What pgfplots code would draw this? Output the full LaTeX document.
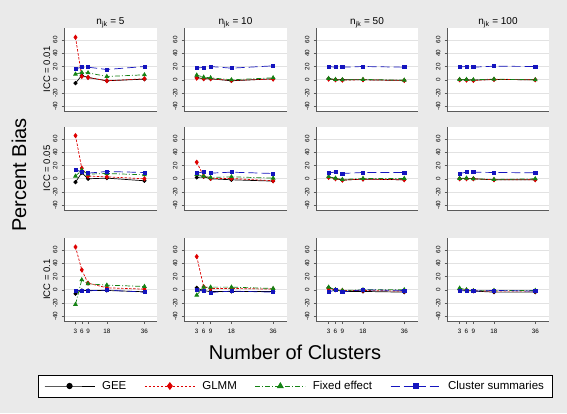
\documentclass[border=0pt]{standalone}
\usepackage{pgfplots}
\pgfplotsset{compat=1.18}
\usepackage{fontspec}
\setmainfont{Liberation Sans}

\definecolor{bg}{RGB}{234,234,234}
\definecolor{cred}{RGB}{222,0,0}
\definecolor{cgreen}{RGB}{20,130,20}
\definecolor{cblue}{RGB}{20,20,190}
\definecolor{gridc}{RGB}{226,226,226}
\definecolor{axc}{RGB}{90,90,90}

\pgfplotsset{
 every axis title/.style={at={(0.5,1)}, anchor=south, inner sep=1pt, yshift=-1pt, font=\fontsize{10}{12}\selectfont},
 panel/.style={scale only axis, height=83pt, anchor=south west,
   xmin=-2.5, xmax=42, ymin=-47, ymax=78,
   axis lines*=left, axis line style={-, axc, line width=0.5pt},
   axis background/.style={fill=white},
   ytick={-40,-20,0,20,40,60}, yticklabels={-40,-20,0,20,40,60},
   yticklabel style={rotate=90, anchor=south, font=\fontsize{6.3}{6.3}\selectfont, inner sep=1pt, outer ysep=3pt},
   tick align=outside, major tick length=2.5pt, tick style={axc, line width=0.4pt},
   ymajorgrids, major grid style={gridc, line width=0.6pt},
   ylabel style={font=\fontsize{9.5}{11}\selectfont, at={(axis description cs:-0.185,0.5)}, anchor=center},
   xtick=\empty},
 lastrow/.style={xtick={3,6,9,18,36}, xticklabels={3,6,9,18,36},
   xticklabel style={font=\fontsize{6.3}{6.3}\selectfont, inner sep=1pt, outer ysep=5pt}},
 gee/.style={black, solid, line width=0.7pt, mark=*, mark size=1.7pt, mark options={solid}},
 glmm/.style={cred, dash pattern=on 2.5pt off 1.5pt, line width=0.7pt, mark=diamond*, mark size=2.1pt, mark options={solid}},
 fe/.style={cgreen, dash pattern=on 5pt off 2pt on 1pt off 2pt, line width=0.7pt, mark=triangle*, mark size=2.1pt, mark options={solid}},
 cs/.style={cblue, dash pattern=on 9pt off 4pt, line width=0.7pt, mark=square*, mark size=1.6pt, mark options={solid}},
}

\begin{document}
\begin{tikzpicture}
\fill[bg] (0pt,0pt) rectangle (567pt,413pt);

% ---------------- Row 1: ICC = 0.01 ----------------
\begin{axis}[panel, at={(64pt,302pt)}, width=93pt, title={n\textsubscript{jk} = 5}, ylabel={ICC = 0.01}]
\addplot[gee] coordinates {(3,-5)(6,6.5)(9,3.5)(18,-1.5)(36,1)};
\addplot[glmm] coordinates {(3,64)(6,5)(9,3.5)(18,-1.5)(36,1.5)};
\addplot[fe] coordinates {(3,8.5)(6,11)(9,10.5)(18,5)(36,7.5)};
\addplot[cs] coordinates {(3,16.5)(6,19)(9,19)(18,15.5)(36,20)};
\end{axis}
\begin{axis}[panel, at={(184pt,302pt)}, width=103pt, title={n\textsubscript{jk} = 10}]
\addplot[gee] coordinates {(3,3.5)(6,1.5)(9,1.5)(18,-1.5)(36,1.5)};
\addplot[glmm] coordinates {(3,2.5)(6,1.5)(9,1.5)(18,-1)(36,1)};
\addplot[fe] coordinates {(3,7)(6,4)(9,3)(18,0)(36,3)};
\addplot[cs] coordinates {(3,18)(6,18.5)(9,20)(18,17.5)(36,21)};
\end{axis}
\begin{axis}[panel, at={(316pt,302pt)}, width=102pt, title={n\textsubscript{jk} = 50}]
\addplot[gee] coordinates {(3,1.5)(6,0)(9,0)(18,0)(36,-1)};
\addplot[glmm] coordinates {(3,1)(6,0)(9,-0.5)(18,0)(36,-1)};
\addplot[fe] coordinates {(3,2)(6,0.5)(9,0)(18,0.5)(36,-0.5)};
\addplot[cs] coordinates {(3,20)(6,19)(9,19)(18,20)(36,19)};
\end{axis}
\begin{axis}[panel, at={(447pt,302pt)}, width=102pt, title={n\textsubscript{jk} = 100}]
\addplot[gee] coordinates {(3,0)(6,0)(9,-0.5)(18,0.5)(36,0)};
\addplot[glmm] coordinates {(3,0)(6,-0.5)(9,-1)(18,0.5)(36,0)};
\addplot[fe] coordinates {(3,0.5)(6,0.5)(9,0)(18,1)(36,0)};
\addplot[cs] coordinates {(3,19.5)(6,20)(9,19)(18,20.5)(36,20)};
\end{axis}

% ---------------- Row 2: ICC = 0.05 ----------------
\begin{axis}[panel, at={(64pt,203pt)}, width=93pt, ylabel={ICC = 0.05}]
\addplot[gee] coordinates {(3,-5)(6,9)(9,0)(18,1)(36,-3)};
\addplot[glmm] coordinates {(3,65)(6,16)(9,4)(18,3)(36,0)};
\addplot[fe] coordinates {(3,4)(6,13)(9,7)(18,8)(36,6)};
\addplot[cs] coordinates {(3,14)(6,10)(9,8.5)(18,11)(36,9.5)};
\end{axis}
\begin{axis}[panel, at={(184pt,203pt)}, width=103pt]
\addplot[gee] coordinates {(3,2)(6,3)(9,0)(18,-1.5)(36,-3.5)};
\addplot[glmm] coordinates {(3,25)(6,4)(9,0.5)(18,0.5)(36,-3)};
\addplot[fe] coordinates {(3,6.5)(6,4)(9,2)(18,3)(36,1)};
\addplot[cs] coordinates {(3,8.5)(6,10.5)(9,8.5)(18,10)(36,8)};
\end{axis}
\begin{axis}[panel, at={(316pt,203pt)}, width=102pt]
\addplot[gee] coordinates {(3,2.5)(6,0.5)(9,-2)(18,-0.5)(36,-1.5)};
\addplot[glmm] coordinates {(3,2)(6,0)(9,-2)(18,-0.5)(36,-1.5)};
\addplot[fe] coordinates {(3,3)(6,1)(9,-1)(18,0.5)(36,0.5)};
\addplot[cs] coordinates {(3,8.5)(6,10.5)(9,8)(18,9.5)(36,9.5)};
\end{axis}
\begin{axis}[panel, at={(447pt,203pt)}, width=102pt]
\addplot[gee] coordinates {(3,0)(6,0.5)(9,0)(18,-1.5)(36,-1.5)};
\addplot[glmm] coordinates {(3,0)(6,0)(9,0)(18,-1.5)(36,-1.5)};
\addplot[fe] coordinates {(3,0.5)(6,1)(9,0)(18,-1)(36,0)};
\addplot[cs] coordinates {(3,8)(6,10)(9,10)(18,9.5)(36,9)};
\end{axis}

% ---------------- Row 3: ICC = 0.1 ----------------
\begin{axis}[panel, lastrow, at={(64pt,92pt)}, width=93pt, ylabel={ICC = 0.1}]
\addplot[gee] coordinates {(3,-6)(6,-1)(9,-1)(18,-1)(36,-3)};
\addplot[glmm] coordinates {(3,64.5)(6,30)(9,10)(18,3)(36,1)};
\addplot[fe] coordinates {(3,-22)(6,15)(9,9)(18,7)(36,5)};
\addplot[cs] coordinates {(3,-1)(6,-1)(9,-1.5)(18,-0.5)(36,-3.5)};
\end{axis}
\begin{axis}[panel, lastrow, at={(184pt,92pt)}, width=103pt]
\addplot[gee] coordinates {(3,3)(6,-1.5)(9,-2.5)(18,-2.5)(36,-2.5)};
\addplot[glmm] coordinates {(3,50)(6,4.5)(9,2)(18,2)(36,1)};
\addplot[fe] coordinates {(3,-8)(6,4)(9,4)(18,4)(36,2)};
\addplot[cs] coordinates {(3,0)(6,-2)(9,-4)(18,-2)(36,-3.5)};
\end{axis}
\begin{axis}[panel, lastrow, at={(316pt,92pt)}, width=102pt]
\addplot[gee] coordinates {(3,3)(6,0)(9,-2.5)(18,-2.5)(36,-3.5)};
\addplot[glmm] coordinates {(3,1.5)(6,0)(9,-1)(18,-1)(36,-2)};
\addplot[fe] coordinates {(3,4)(6,0)(9,-1)(18,0)(36,0)};
\addplot[cs] coordinates {(3,-3.5)(6,0)(9,-3)(18,0)(36,-1)};
\end{axis}
\begin{axis}[panel, lastrow, at={(447pt,92pt)}, width=102pt]
\addplot[gee] coordinates {(3,0)(6,-1)(9,-2)(18,-3.5)(36,-3.5)};
\addplot[glmm] coordinates {(3,0)(6,-0.5)(9,-1.5)(18,-2)(36,-2)};
\addplot[fe] coordinates {(3,2.5)(6,0)(9,-1.5)(18,-1)(36,-1)};
\addplot[cs] coordinates {(3,-2)(6,-1)(9,-2)(18,-1)(36,-2)};
\end{axis}

% overall titles
\node[rotate=90, font=\fontsize{20}{24}\selectfont] at (19pt,238pt) {Percent Bias};
\node[font=\fontsize{20}{24}\selectfont] at (295pt,61pt) {Number of Clusters};

% legend
\draw[black, line width=0.9pt, fill=white] (38pt,16pt) rectangle (552pt,38pt);
\begin{axis}[at={(38pt,16pt)}, anchor=south west, scale only axis, width=514pt, height=22pt,
  hide axis, xmin=0, xmax=1, ymin=0, ymax=1,
  legend columns=4,
  legend style={at={(0.5,0.5)}, anchor=center, draw=none, fill=none,
    font=\fontsize{11.5}{13}\selectfont,
    /tikz/every odd column/.append style={column sep=5pt},
    /tikz/every even column/.append style={column sep=16pt}},
  legend image code/.code={\draw[mark repeat=2,mark phase=2,#1] plot coordinates {(0pt,0pt) (25pt,0pt) (50pt,0pt)};}]
\addlegendimage{gee, mark size=2.6pt, line width=1pt}
\addlegendentry{GEE}
\addlegendimage{glmm, mark size=3.2pt, line width=1pt}
\addlegendentry{GLMM}
\addlegendimage{fe, mark size=3pt, line width=1pt}
\addlegendentry{Fixed effect}
\addlegendimage{cs, mark size=2.5pt, line width=1pt}
\addlegendentry{Cluster summaries}
\end{axis}

\pgfresetboundingbox
\path (0pt,0pt) rectangle (567pt,413pt);
\end{tikzpicture}
\end{document}
